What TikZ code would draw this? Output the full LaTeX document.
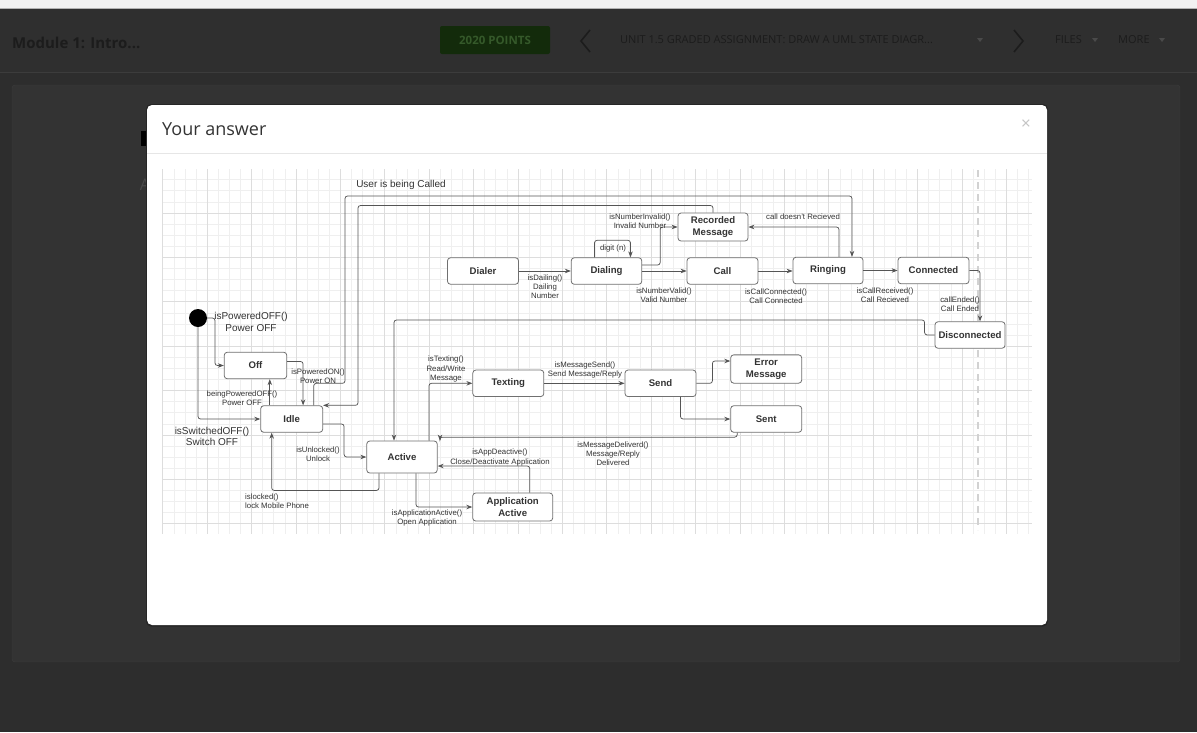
\documentclass[tikz,border=0pt]{standalone}
\usepackage{fontspec}
\setmainfont{Liberation Sans}
\newfontfamily\uifont{Open Sans}
\usetikzlibrary{arrows.meta,calc,positioning}

\definecolor{topstrip}{HTML}{F2F2F2}
\definecolor{headerbg}{HTML}{2F2F2F}
\definecolor{pagebg}{HTML}{2D2D2D}
\definecolor{cardbg}{HTML}{333333}
\definecolor{cardline}{HTML}{3C3C3C}
\definecolor{headtext}{HTML}{1C1C1C}
\definecolor{btnfill}{HTML}{132B0B}
\definecolor{btntext}{HTML}{35592A}
\definecolor{caretgray}{HTML}{4A4A4A}
\definecolor{titletext}{HTML}{333333}
\definecolor{closegray}{HTML}{C4C4C4}
\definecolor{sepline}{HTML}{E6E6E6}
\definecolor{gridminor}{HTML}{EFEFEF}
\definecolor{gridmajor}{HTML}{DDDDDD}
\definecolor{stateline}{HTML}{707070}
\definecolor{connline}{HTML}{555555}
\definecolor{textgray}{HTML}{333333}
\definecolor{dashgray}{HTML}{D2D2D2}

\begin{document}
\begin{tikzpicture}[x=1pt,y=-1pt,>={Stealth[length=6pt,width=4.5pt]},
    state node/.style={draw=stateline,fill=white,rounded corners=3pt,line width=0.8pt,
      minimum width=71pt,minimum height=26.5pt,inner sep=1pt,align=center,text=textgray,
      font=\fontsize{9.6}{11.5}\selectfont\bfseries},
    conn/.style={->,draw=connline,line width=0.75pt,rounded corners=2.5pt},
    trans label/.style={text=textgray,align=center,inner sep=0pt,font=\fontsize{7.8}{9.2}\selectfont},
    note label/.style={text=textgray,align=center,inner sep=0pt,font=\fontsize{10}{11.5}\selectfont},
    ui text/.style={inner sep=0pt,text=headtext}]
\useasboundingbox (0,0) rectangle (1197,732);

% page behind the overlay
\fill[pagebg] (0,0) rectangle (1197,732);
\fill[topstrip] (0,0) rectangle (1197,8);
\draw[gray!60] (0,8.5) -- (1197,8.5);
\fill[headerbg] (0,9) rectangle (1197,72);
\draw[cardline] (0,72.5) -- (1197,72.5);
\filldraw[fill=cardbg,draw=cardline,rounded corners=3pt] (12,85) rectangle (1180,662);

% header bar
\node[ui text,anchor=west,font=\uifont\fontsize{15}{17}\selectfont\bfseries] (module) at (12,43) {Module 1: Intro...};
\node[fill=btnfill,rounded corners=2pt,minimum width=110pt,minimum height=28pt,inner sep=0pt,
  text=btntext,font=\uifont\fontsize{11.5}{13}\selectfont\bfseries] (points) at (495,40) {2020 POINTS};
\draw[headtext,line width=1.6pt] (590,30) -- (581,41) -- (590,52);
\node[ui text,anchor=west,font=\uifont\fontsize{11}{13}\selectfont] (unit) at (620,40)
  {UNIT 1.5 GRADED ASSIGNMENT: DRAW A UML STATE DIAGR...};
\fill[caretgray] (977,38) -- (983,38) -- (980,42) -- cycle;
\draw[headtext,line width=1.6pt] (1014,30) -- (1023,41) -- (1014,52);
\node[ui text,anchor=west,font=\uifont\fontsize{11}{13}\selectfont] (files) at (1055,40) {FILES};
\fill[caretgray] (1092,38) -- (1098,38) -- (1095,42) -- cycle;
\node[ui text,anchor=west,font=\uifont\fontsize{11}{13}\selectfont] (more) at (1118,40) {MORE};
\fill[caretgray] (1159,38) -- (1165,38) -- (1162,42) -- cycle;

% page text peeking out behind the modal
\fill[black] (141,131) rectangle (147,146);
\node[ui text,text=caretgray,font=\uifont\fontsize{16}{18}\selectfont] (pagea) at (145,185) {A};

% modal
\fill[black!85,rounded corners=5pt] (146,104) rectangle (1048,626.5);
\fill[white,rounded corners=5pt] (147,105) rectangle (1047,625);
\node[ui text,anchor=west,text=titletext,font=\uifont\fontsize{18}{20}\selectfont] (title) at (162,129) {Your answer};
\node[ui text,text=closegray,font=\uifont\fontsize{17}{18}\selectfont] (close) at (1026,125) {\texttimes};
\draw[sepline] (147,153.5) -- (1047,153.5);

% grid paper
\begin{scope}
\clip (162,169) rectangle (1032,534);
\foreach \i in {0,...,78}
  \draw[gridminor,line width=0.5pt] ({162.7+11.1*\i},169) -- ({162.7+11.1*\i},534);
\foreach \j in {0,...,32}
  \draw[gridminor,line width=0.5pt] (162,{168.5+11.1*\j}) -- (1032,{168.5+11.1*\j});
\foreach \i in {0,...,19}
  \draw[gridmajor,line width=0.7pt] ({162.7+44.4*\i},169) -- ({162.7+44.4*\i},534);
\foreach \j in {0,...,8}
  \draw[gridmajor,line width=0.7pt] (162,{168.5+44.4*\j}) -- (1032,{168.5+44.4*\j});
\end{scope}
\draw[dashgray,line width=1.3pt,dash pattern=on 7pt off 5pt] (978,170) -- (978,530);

% states
\node[circle,fill=black,minimum size=18pt,inner sep=0pt] (init) at (198,318) {};
\node[state node] (dialer) at (483,271) {Dialer};
\node[state node,minimum width=70.5pt] (dialing) at (606.5,271) {Dialing};
\node[state node] (call) at (722.5,271) {Call};
\node[state node,minimum width=70pt] (ringing) at (828,270.5) {Ringing};
\node[state node] (connected) at (933.5,270.5) {Connected};
\node[state node,minimum width=70pt,minimum height=28pt] (recorded) at (713,227) {Recorded\\Message};
\node[state node,minimum width=70pt] (disconnected) at (970,335) {Disconnected};
\node[state node,minimum width=62.5pt] (off) at (255.5,365.5) {Off};
\node[state node,minimum width=62pt] (idle) at (291.7,419) {Idle};
\node[state node,minimum width=70.5pt,minimum height=32pt] (active) at (402,457) {Active};
\node[state node] (texting) at (508.3,383.3) {Texting};
\node[state node] (send) at (660.5,383.3) {Send};
\node[state node,minimum height=28.3pt] (error) at (766.2,369) {Error\\Message};
\node[state node] (sent) at (766.2,419) {Sent};
\node[state node,minimum width=80pt,minimum height=28pt] (appactive) at (512.7,507) {Application\\Active};

% transitions
\draw[conn] (init.east) -- (215,318) |- (off.west);
\draw[conn] (init.south) |- (idle.west);
\draw[conn] ([xshift=9.5pt]idle.north west) -- ([xshift=9.5pt]idle.north west |- off.south);
\draw[conn] ([yshift=4pt]off.east) -| ([xshift=-20pt]idle.north east);
\draw[conn] ([xshift=22pt]idle.north) -- ++(0,-22) -| (345,196) -| ([xshift=24pt]ringing.north);
\draw[conn] (recorded.north) |- (358,205.5) |- (idle.north east);
\draw[conn] ([yshift=-5pt]idle.east) -- ++(21,0) |- (active.west);
\draw[conn] ([xshift=-23pt]active.south) -- ++(0,17) -| ([xshift=-20pt]idle.south);
\draw[conn] ([xshift=27pt]active.north) |- (texting.west);
\draw[conn] (texting.east) -- (send.west);
\draw[conn] (send.east) -- ++(16,0) |- ([yshift=8pt]error.west);
\draw[conn] ([xshift=20pt]send.south) |- (sent.west);
\draw[conn] ([xshift=-29pt]sent.south) -- ++(0,4.5) -| ([xshift=38pt]active.north);
\draw[conn] ([xshift=17pt]appactive.north) |- ([yshift=-9pt]active.east);
\draw[conn] ([xshift=14pt]active.south) |- (appactive.west);
\draw[conn] (dialer.east) -- (dialing.west);
\draw[conn] ([xshift=-12pt]dialing.north) -- ++(0,-17) -| ([xshift=24pt]dialing.north);
\draw[conn] ([yshift=6pt]dialing.east) -- ++(18,0) |- (recorded.west);
\draw[conn] (dialing.east) -- (call.west);
\draw[conn] (call.east) -- (call.east -| ringing.west);
\draw[conn] ([xshift=11pt]ringing.north) |- (recorded.east);
\draw[conn] (ringing.east) -- (connected.west);
\draw[conn] (connected.east) -| ([xshift=10pt]disconnected.north);
\draw[conn] (disconnected.west) -- ++(-10,0) -- ++(0,-15) -| ([xshift=-8pt]active.north);

% transition labels
\node[note label] (lcalled) at (401,185) {User is being Called};
\node[note label] (lpoweroff) at (251,322) {isPoweredOFF()\\Power OFF};
\node[note label] (lswitchoff) at (212,436.5) {isSwitchedOFF()\\Switch OFF};
\node[trans label] (lbeingoff) at (242,398.5) {beingPoweredOFF()\\Power OFF};
\node[trans label] (lpoweron) at (318,376.5) {isPoweredON()\\Power ON};
\node[trans label] (lunlock) at (318,454.5) {isUnlocked()\\Unlock};
\node[trans label,anchor=west,align=left] (llock) at (245,501.5) {islocked()\\lock Mobile Phone};
\node[trans label] (ltexting) at (446,369) {isTexting()\\Read/Write\\Message};
\node[trans label] (lsend) at (585,370) {isMessageSend()\\Send Message/Reply};
\node[trans label] (ldelivered) at (613,454) {isMessageDeliverd()\\Message/Reply\\Delivered};
\node[trans label] (ldeactive) at (500,457.5) {isAppDeactive()\\Close/Deactivate Application};
\node[trans label] (lappactive) at (427,518) {isApplicationActive()\\Open Application};
\node[trans label] (ldialing) at (545,287) {isDailing()\\Dailing\\Number};
\node[trans label] (ldigit) at (613,248) {digit (n)};
\node[trans label] (linvalid) at (640,221.5) {isNumberInvalid()\\Invalid Number};
\node[trans label] (lvalid) at (664,295.5) {isNumberValid()\\Valid Number};
\node[trans label] (lconnected) at (776,296.5) {isCallConnected()\\Call Connected};
\node[trans label] (lnotreceived) at (803,217) {call doesn't Recieved};
\node[trans label] (lreceived) at (885,295) {isCallReceived()\\Call Recieved};
\node[trans label] (lended) at (960,304.5) {callEnded()\\Call Ended};
\end{tikzpicture}
\end{document}
